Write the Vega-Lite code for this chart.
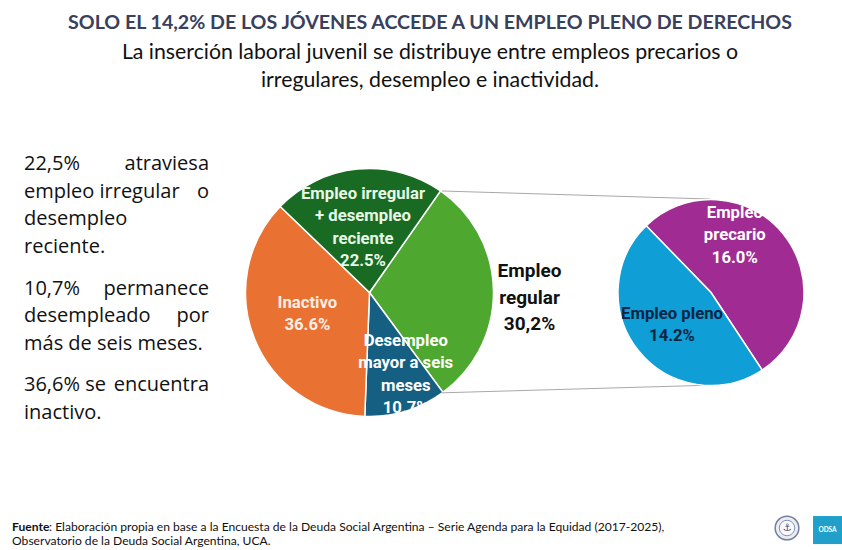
{
  "$schema": "https://vega.github.io/schema/vega-lite/v6.json",
  "padding": {"left": 0, "right": 0, "top": 13, "bottom": 0},
  "background": "white",
  "title": {
    "text": "SOLO EL 14,2% DE LOS JÓVENES ACCEDE A UN EMPLEO PLENO DE DERECHOS",
    "subtitle": ["La inserción laboral juvenil se distribuye entre empleos precarios o", "irregulares, desempleo e inactividad."],
    "anchor": "middle",
    "dx": 9,
    "font": "Lato",
    "fontSize": 19.6,
    "fontWeight": "bold",
    "color": "#39405c",
    "subtitleFont": "Lato",
    "subtitleFontSize": 21.3,
    "subtitleColor": "#111111",
    "subtitleLineHeight": 28,
    "subtitlePadding": 8,
    "offset": 9
  },
  "datasets": {
    "insercion": [
      {"categoria": "Empleo regular", "orden": 1, "valor": 30.2, "etiqueta": "Empleo\nregular\n30,2%"},
      {"categoria": "Desempleo mayor a seis meses", "orden": 2, "valor": 10.7, "etiqueta": "Desempleo\nmayor a seis\nmeses\n10.7%"},
      {"categoria": "Inactivo", "orden": 3, "valor": 36.6, "etiqueta": "Inactivo\n36.6%"},
      {"categoria": "Empleo irregular + desempleo reciente", "orden": 4, "valor": 22.5, "etiqueta": "Empleo irregular\n+ desempleo\nreciente\n22.5%"}
    ],
    "regular": [
      {"categoria": "Empleo precario", "orden": 1, "valor": 16.0, "etiqueta": "Empleo\nprecario\n16.0%"},
      {"categoria": "Empleo pleno", "orden": 2, "valor": 14.2, "etiqueta": "Empleo pleno\n14.2%"}
    ],
    "parrafos": [
      {"renglon": 0, "izq": "22,5%", "der": "atraviesa"},
      {"renglon": 1, "izq": "empleo irregular", "der": "o"},
      {"renglon": 2, "izq": "desempleo", "der": ""},
      {"renglon": 3, "izq": "reciente.", "der": ""},
      {"renglon": 4.5, "izq": "10,7%", "der": "permanece"},
      {"renglon": 5.5, "izq": "desempleado", "der": "por"},
      {"renglon": 6.5, "izq": "más de seis meses.", "der": ""},
      {"renglon": 8, "izq": "36,6% se", "der": "encuentra"},
      {"renglon": 9, "izq": "inactivo.", "der": ""}
    ],
    "fuente": [
      {"renglon": 1, "negrita": "Fuente", "texto": ": Elaboración propia en base a la Encuesta de la Deuda Social Argentina – Serie Agenda para la Equidad (2017-2025),"},
      {"renglon": 2, "negrita": "", "texto": "Observatorio de la Deuda Social Argentina, UCA."}
    ]
  },
  "spacing": 0,
  "vconcat": [
    {
      "spacing": 0,
      "bounds": "flush",
      "hconcat": [
        {
          "width": 246,
          "height": 383,
          "data": {"name": "parrafos"},
          "encoding": {
            "y": {"field": "renglon", "type": "quantitative", "axis": null, "scale": {"domain": [0, 9], "range": [63, 312]}}
          },
          "layer": [
            {
              "mark": {"type": "text", "align": "left", "font": "Open Sans", "fontSize": 20, "color": "#111111"},
              "encoding": {
                "x": {"datum": 0, "axis": null, "scale": {"domain": [0, 1], "range": [24, 209]}},
                "text": {"field": "izq"}
              }
            },
            {
              "mark": {"type": "text", "align": "right", "font": "Open Sans", "fontSize": 20, "color": "#111111"},
              "encoding": {
                "x": {"datum": 1, "axis": null, "scale": {"domain": [0, 1], "range": [24, 209]}},
                "text": {"field": "der"}
              }
            }
          ]
        },
        {
          "width": 247,
          "height": 383,
          "data": {"name": "insercion"},
          "encoding": {
            "theta": {"field": "valor", "type": "quantitative", "stack": true, "scale": {"range": [0.61, 6.893]}},
            "order": {"field": "orden"}
          },
          "layer": [
            {
              "mark": {"type": "arc", "outerRadius": 124, "stroke": "white", "strokeWidth": 1.5},
              "encoding": {
                "color": {
                  "field": "categoria",
                  "legend": null,
                  "scale": {
                    "domain": ["Empleo regular", "Desempleo mayor a seis meses", "Inactivo", "Empleo irregular + desempleo reciente", "Empleo precario", "Empleo pleno"],
                    "range": ["#4ea72e", "#156082", "#e97132", "#196b24", "#a02b93", "#0f9ed5"]
                  }
                }
              }
            },
            {
              "mark": {"type": "text", "radius": 67, "dy": -15, "lineBreak": "\n", "lineHeight": 22.5, "font": "Roboto", "fontWeight": "bold", "fontSize": 16.7, "color": "#fdeee3"},
              "encoding": {
                "text": {"condition": {"test": "datum.orden == 3", "field": "etiqueta"}, "value": ""}
              }
            },
            {
              "mark": {"type": "text", "radius": 67, "dy": -32, "lineBreak": "\n", "lineHeight": 22.5, "font": "Roboto", "fontWeight": "bold", "fontSize": 16.7, "color": "#e8f8e4"},
              "encoding": {
                "text": {"condition": {"test": "datum.orden == 4", "field": "etiqueta"}, "value": ""}
              }
            },
            {
              "mark": {"type": "text", "radius": 86, "dx": 11, "dy": -34, "lineBreak": "\n", "lineHeight": 22.5, "font": "Roboto", "fontWeight": "bold", "fontSize": 16.7, "color": "white"},
              "encoding": {
                "text": {"condition": {"test": "datum.orden == 2", "field": "etiqueta"}, "value": ""}
              }
            }
          ]
        },
        {
          "width": 87,
          "height": 383,
          "layer": [
            {
              "data": {"values": [{}]},
              "mark": {"type": "rule", "stroke": "#a8a8a8", "strokeWidth": 1},
              "encoding": {
                "x": {"datum": -0.586, "axis": null, "scale": {"domain": [0, 1]}},
                "x2": {"datum": 2.5},
                "y": {"datum": 0.235, "axis": null, "scale": {"domain": [0, 1], "reverse": true}},
                "y2": {"datum": 0.256}
              }
            },
            {
              "data": {"values": [{}]},
              "mark": {"type": "rule", "stroke": "#a8a8a8", "strokeWidth": 1},
              "encoding": {
                "x": {"datum": -0.598, "axis": null, "scale": {"domain": [0, 1]}},
                "x2": {"datum": 2.5},
                "y": {"datum": 0.762, "axis": null, "scale": {"domain": [0, 1], "reverse": true}},
                "y2": {"datum": 0.742}
              }
            },
            {
              "data": {"name": "insercion"},
              "transform": [{"filter": "datum.orden == 1"}],
              "mark": {"type": "text", "lineBreak": "\n", "lineHeight": 26.5, "font": "Roboto", "fontWeight": "bold", "fontSize": 19, "color": "#111111"},
              "encoding": {
                "x": {"datum": 0.42, "axis": null, "scale": {"domain": [0, 1]}},
                "y": {"datum": 0.445, "axis": null, "scale": {"domain": [0, 1], "reverse": true}},
                "text": {"field": "etiqueta"}
              }
            }
          ]
        },
        {
          "width": 262,
          "height": 383,
          "data": {"name": "regular"},
          "encoding": {
            "theta": {"field": "valor", "type": "quantitative", "stack": true, "scale": {"range": [-0.77, 5.513]}},
            "order": {"field": "orden"}
          },
          "layer": [
            {
              "mark": {"type": "arc", "outerRadius": 93, "stroke": "white", "strokeWidth": 1.5},
              "encoding": {
                "color": {
                  "field": "categoria",
                  "legend": null,
                  "scale": {
                    "domain": ["Empleo regular", "Desempleo mayor a seis meses", "Inactivo", "Empleo irregular + desempleo reciente", "Empleo precario", "Empleo pleno"],
                    "range": ["#4ea72e", "#156082", "#e97132", "#196b24", "#a02b93", "#0f9ed5"]
                  }
                }
              }
            },
            {
              "mark": {"type": "text", "radius": 60, "dx": -23, "dy": -42, "lineBreak": "\n", "lineHeight": 22.5, "font": "Roboto", "fontWeight": "bold", "fontSize": 16.7, "color": "white"},
              "encoding": {
                "text": {"condition": {"test": "datum.orden == 1", "field": "etiqueta"}, "value": ""}
              }
            },
            {
              "mark": {"type": "text", "radius": 50, "dy": -10, "lineBreak": "\n", "lineHeight": 22.5, "font": "Roboto", "fontWeight": "bold", "fontSize": 16.7, "color": "#0b2545"},
              "encoding": {
                "text": {"condition": {"test": "datum.orden == 2", "field": "etiqueta"}, "value": ""}
              }
            }
          ]
        }
      ]
    },
    {
      "width": 842,
      "height": 67,
      "layer": [
        {
          "data": {"name": "fuente"},
          "mark": {"type": "text", "align": "left", "font": "Lato", "fontWeight": "bold", "fontSize": 12.1, "color": "#111111"},
          "encoding": {
            "x": {"datum": 0.0143, "axis": null, "scale": {"domain": [0, 1]}},
            "y": {"field": "renglon", "type": "quantitative", "axis": null, "scale": {"domain": [-2.07, 2.71], "reverse": true}},
            "text": {"field": "negrita"}
          }
        },
        {
          "data": {"name": "fuente"},
          "transform": [{"filter": "datum.renglon == 1"}],
          "mark": {"type": "text", "align": "left", "dx": 37, "font": "Lato", "fontSize": 12.1, "color": "#111111"},
          "encoding": {
            "x": {"datum": 0.0143, "axis": null, "scale": {"domain": [0, 1]}},
            "y": {"field": "renglon", "type": "quantitative", "axis": null, "scale": {"domain": [-2.07, 2.71], "reverse": true}},
            "text": {"field": "texto"}
          }
        },
        {
          "data": {"name": "fuente"},
          "transform": [{"filter": "datum.renglon == 2"}],
          "mark": {"type": "text", "align": "left", "font": "Lato", "fontSize": 12.1, "color": "#111111"},
          "encoding": {
            "x": {"datum": 0.0143, "axis": null, "scale": {"domain": [0, 1]}},
            "y": {"field": "renglon", "type": "quantitative", "axis": null, "scale": {"domain": [-2.07, 2.71], "reverse": true}},
            "text": {"field": "texto"}
          }
        },
        {
          "data": {"values": [{}]},
          "mark": {"type": "point", "shape": "circle", "size": 560, "filled": true, "fill": "#e3e6ee", "stroke": "#3c4a78", "strokeWidth": 1.5},
          "encoding": {
            "x": {"datum": 0.9347, "axis": null, "scale": {"domain": [0, 1]}},
            "y": {"datum": 1.07, "axis": null, "scale": {"domain": [-2.07, 2.71], "reverse": true}}
          }
        },
        {
          "data": {"values": [{}]},
          "mark": {"type": "point", "shape": "circle", "size": 240, "filled": true, "fill": "white", "stroke": "#3c4a78", "strokeWidth": 0.8},
          "encoding": {
            "x": {"datum": 0.9347, "axis": null, "scale": {"domain": [0, 1]}},
            "y": {"datum": 1.07, "axis": null, "scale": {"domain": [-2.07, 2.71], "reverse": true}}
          }
        },
        {
          "data": {"values": [{}]},
          "mark": {"type": "text", "text": "⚓", "font": "DejaVu Sans", "fontSize": 10, "color": "#3c4a78"},
          "encoding": {
            "x": {"datum": 0.9347, "axis": null, "scale": {"domain": [0, 1]}},
            "y": {"datum": 1.07, "axis": null, "scale": {"domain": [-2.07, 2.71], "reverse": true}}
          }
        },
        {
          "data": {"values": [{}]},
          "mark": {"type": "rect", "fill": "#1f9fc9"},
          "encoding": {
            "x": {"datum": 0.9656, "axis": null, "scale": {"domain": [0, 1]}},
            "x2": {"datum": 1},
            "y": {"datum": 0.216, "axis": null, "scale": {"domain": [-2.07, 2.71], "reverse": true}},
            "y2": {"datum": 2.216}
          }
        },
        {
          "data": {"values": [{}]},
          "mark": {"type": "text", "text": "ODSA", "font": "Lato", "fontWeight": "bold", "fontSize": 6.5, "color": "white"},
          "encoding": {
            "x": {"datum": 0.9828, "axis": null, "scale": {"domain": [0, 1]}},
            "y": {"datum": 1.216, "axis": null, "scale": {"domain": [-2.07, 2.71], "reverse": true}}
          }
        }
      ]
    }
  ],
  "config": {"view": {"stroke": null}}
}
